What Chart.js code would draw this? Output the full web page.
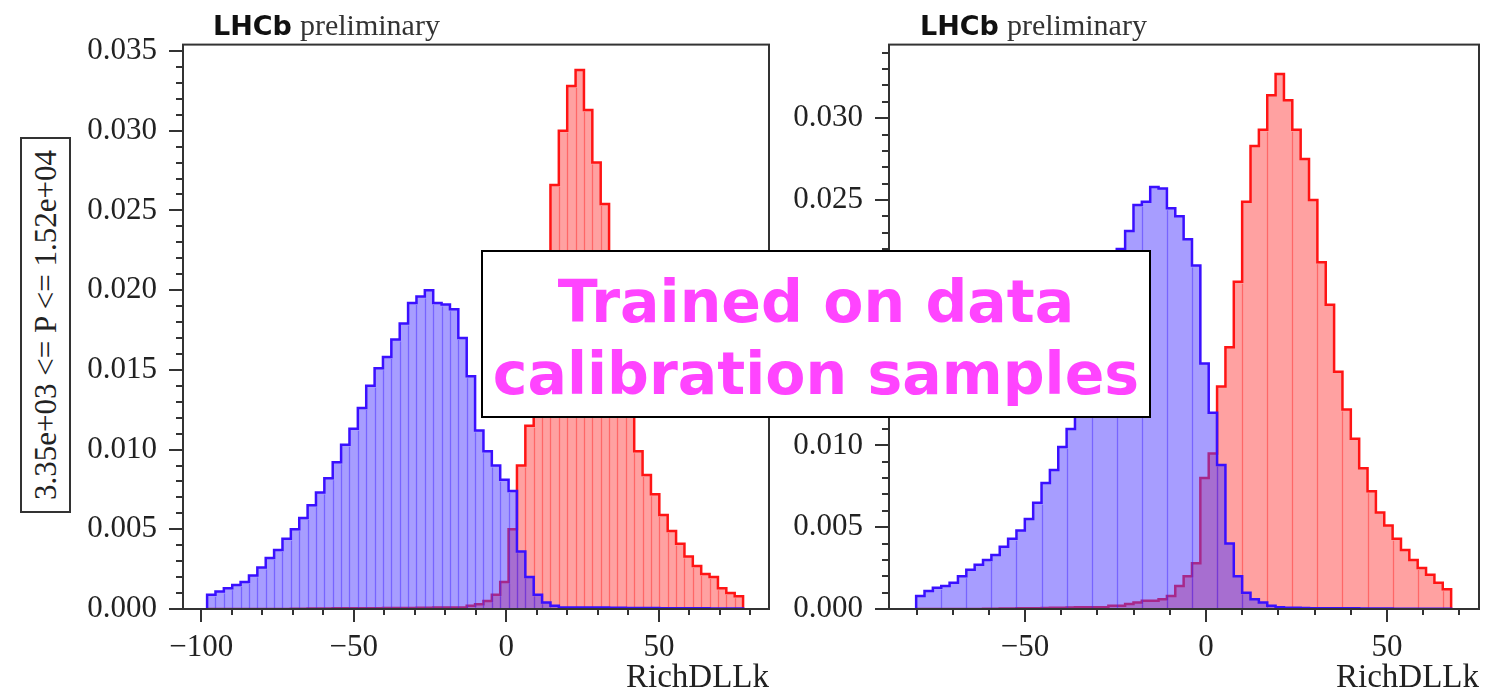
<!DOCTYPE html>
<html>
<head>
<meta charset="utf-8">
<title>RichDLLk</title>
<script src="https://cdn.jsdelivr.net/npm/chart.js@4.4.1/dist/chart.umd.min.js"></script>
<style>
  html, body { margin: 0; padding: 0; background: #fff; }
  #page { position: relative; width: 1499px; height: 695px; overflow: hidden; }
  canvas { position: absolute; top: 0; }
  #left-chart { left: 0; }
  #right-chart { left: 780px; }
  .tag { position: absolute; top: 11px; white-space: nowrap; line-height: 28px; }
  .tag b { font-family: "DejaVu Sans"; font-weight: bold; font-size: 27px; color: #111; margin-right: 4px; }
  .tag span { font-family: "Liberation Serif"; font-size: 30px; color: #333; }
  #p-range {
    position: absolute; left: 20px; top: 137px; width: 51px; height: 376px;
    box-sizing: border-box; border: 2px solid #333; background: #fff;
    display: flex; align-items: center; justify-content: center;
  }
  #p-range div {
    writing-mode: vertical-rl; transform: rotate(180deg);
    font-family: "Liberation Serif"; font-size: 31px; color: #222; white-space: nowrap;
  }
  #note {
    position: absolute; left: 481px; top: 250px; width: 670px; height: 168px;
    box-sizing: border-box; border: 2.5px solid #000; background: #fff;
    padding-top: 14px; text-align: center;
    font-family: "DejaVu Sans"; font-weight: bold; font-size: 58.5px; line-height: 72px; color: #ff44ff;
  }
</style>
</head>
<body>
<div id="page">
  <canvas id="left-chart" width="780" height="695"></canvas>
  <canvas id="right-chart" width="719" height="695"></canvas>
  <div class="tag" style="left:213px"><b>LHCb</b> <span>preliminary</span></div>
  <div class="tag" style="left:920px"><b>LHCb</b> <span>preliminary</span></div>
  <div id="p-range"><div>3.35e+03 &lt;= P &lt;= 1.52e+04</div></div>
  <div id="note">Trained on data<br>calibration samples</div>
</div>
<script>
// histogram ranges (RichDLLk) of the two samples
const leftRange = [-98.1, 77.6];
const rightRange = [-80.1, 67.7];

// normalised bin contents, pions (blue) and kaons (red)
const leftPion = [
  0.0009, 0.0011, 0.0013, 0.0015, 0.0017, 0.0021, 0.0026, 0.0032,
  0.0037, 0.0044, 0.0050, 0.0057, 0.0065, 0.0073, 0.0082, 0.0092,
  0.0103, 0.0113, 0.0126, 0.0140, 0.0151, 0.0158, 0.0169, 0.0179,
  0.0192, 0.0196, 0.0200, 0.0192, 0.0191, 0.0188, 0.0170, 0.0146,
  0.0112, 0.0099, 0.0090, 0.0081, 0.0074, 0.0036, 0.0020, 0.0009,
  0.0004, 0.0002, 0.0001, 0.0001, 0.0001, 0.0001, 0.0001, 0.0001,
  0.00008, 0.00008, 0.00007, 0.00007, 0.00006, 0.00006, 0.00005, 0.00005,
  0.00005, 0.00004, 0.00004, 0.00004, 0.00003, 0.00003, 0.00003, 0.00003
];
const leftKaon = [
  0, 0, 0, 0, 0, 0, 0, 0,
  0, 0, 0.00002, 0.00002, 0.00003, 0.00003, 0.00003, 0.00004,
  0.00004, 0.00004, 0.00005, 0.00005, 0.00005, 0.00006, 0.00006, 0.00007,
  0.00007, 0.00008, 0.00008, 0.00009, 0.0001, 0.0001, 0.0001, 0.0002,
  0.0003, 0.0005, 0.0009, 0.0017, 0.0050, 0.0090, 0.0115, 0.0150,
  0.0210, 0.0266, 0.0300, 0.0328, 0.0338, 0.0313, 0.0280, 0.0254,
  0.0222, 0.0180, 0.0130, 0.0099, 0.0084, 0.0072, 0.0059, 0.0049,
  0.0041, 0.0033, 0.0027, 0.0022, 0.0020, 0.0013, 0.0010, 0.0008
];
const rightPion = [
  0.0008, 0.0011, 0.0013, 0.0014, 0.0016, 0.0020, 0.0024, 0.0027,
  0.0030, 0.0033, 0.0038, 0.0043, 0.0048, 0.0055, 0.0065, 0.0077,
  0.0085, 0.0099, 0.0110, 0.0123, 0.0140, 0.0160, 0.0180, 0.0200,
  0.0220, 0.0231, 0.0247, 0.0249, 0.0258, 0.0257, 0.0245, 0.0240,
  0.0226, 0.0210, 0.0150, 0.0120, 0.0088, 0.0040, 0.0020, 0.0010,
  0.0006, 0.0004, 0.0002, 0.0001, 0.00008, 0.00007, 0.00006, 0.00005,
  0.00005, 0.00005, 0.00004, 0.00004, 0.00004, 0.00003, 0.00003, 0.00003,
  0.00003, 0.00002, 0.00002, 0.00002, 0.00002, 0.00002, 0.00002, 0.00002
];
const rightKaon = [
  0, 0, 0, 0, 0, 0, 0, 0,
  0.00002, 0.00002, 0.00003, 0.00003, 0.00004, 0.00004, 0.00005, 0.00006,
  0.00007, 0.00008, 0.00009, 0.0001, 0.0001, 0.0001, 0.0001, 0.0002,
  0.0002, 0.0003, 0.0004, 0.0005, 0.0005, 0.0006, 0.0008, 0.0014,
  0.0020, 0.0028, 0.0080, 0.0095, 0.0136, 0.0160, 0.0200, 0.0249,
  0.0283, 0.0293, 0.0314, 0.0327, 0.0311, 0.0293, 0.0275, 0.0250,
  0.0212, 0.0186, 0.0145, 0.0122, 0.0104, 0.0086, 0.0072, 0.0059,
  0.0051, 0.0043, 0.0036, 0.0030, 0.0025, 0.0021, 0.0016, 0.0012
];

// axis limits and tick spacing
const leftXLim = [-106.0, 86.1];
const rightXLim = [-87.6, 75.4];
const leftYMax = 0.0354;
const rightYMax = 0.0345;
const xMajorStep = 50, xMinorStep = 10;
const yMajorStep = 0.005, yMinorStep = 0.001;

function binEdges(lo, hi, n) {
  const w = (hi - lo) / n;
  const e = [];
  for (let i = 0; i <= n; i++) e.push(lo + i * w);
  return e;
}

// points for a stepped outline that starts and ends on zero
function stepPoints(edges, counts) {
  const pts = [{x: edges[0], y: 0}];
  counts.forEach((c, i) => pts.push({x: edges[i], y: c}));
  pts.push({x: edges[edges.length - 1], y: 0});
  return pts;
}

function isMajor(v, step) {
  const r = v / step;
  return Math.abs(r - Math.round(r)) < 1e-6;
}

function fmtX(v) {
  return v < 0 ? '\u2212' + Math.abs(v) : String(v);
}

// thin seams between the filled bars
const barSeams = {
  id: 'barSeams',
  afterDatasetDraw(chart, args) {
    const ds = chart.data.datasets[args.index];
    if (!ds.edges) return;
    const {ctx, chartArea: a, scales: {x, y}} = chart;
    const y0 = y.getPixelForValue(0);
    ctx.save();
    ctx.beginPath();
    ctx.rect(a.left, a.top, a.right - a.left, a.bottom - a.top);
    ctx.clip();
    ctx.strokeStyle = ds.seamColor;
    ctx.lineWidth = 1.3;
    ctx.beginPath();
    for (let i = 1; i < ds.counts.length; i++) {
      if (i % ds.seamEvery) continue;
      const h = Math.min(ds.counts[i - 1], ds.counts[i]);
      const px = Math.round(x.getPixelForValue(ds.edges[i])) + 0.5;
      ctx.moveTo(px, y0);
      ctx.lineTo(px, y.getPixelForValue(h) + 2);
    }
    ctx.stroke();
    ctx.restore();
  }
};

// frame plus long/short tick marks, matplotlib style
const frameTicks = {
  id: 'frameTicks',
  afterDatasetsDraw(chart) {
    const {ctx, chartArea: a, scales: {x, y}} = chart;
    ctx.save();
    ctx.strokeStyle = '#333';
    ctx.lineWidth = 2;
    ctx.strokeRect(a.left, a.top, a.right - a.left, a.bottom - a.top);
    ctx.beginPath();
    y.ticks.forEach(t => {
      const py = Math.round(y.getPixelForValue(t.value));
      const len = isMajor(t.value, yMajorStep) ? 14 : 7;
      ctx.moveTo(a.left - len, py);
      ctx.lineTo(a.left, py);
    });
    x.ticks.forEach(t => {
      const px = Math.round(x.getPixelForValue(t.value));
      const len = isMajor(t.value, xMajorStep) ? 13 : 6;
      ctx.moveTo(px, a.bottom);
      ctx.lineTo(px, a.bottom + len);
    });
    ctx.stroke();
    ctx.restore();
  }
};

const tickFont = {family: 'Liberation Serif', size: 31};

function histPanel(id, range, pion, kaon, xLim, yMax, yAxisWidth, padRight, seamEvery) {
  const edges = binEdges(range[0], range[1], pion.length);
  const common = {fill: 'origin', stepped: 'before', pointRadius: 0, borderWidth: 2.5,
                  borderJoinStyle: 'miter', edges: edges, seamEvery: seamEvery};
  return new Chart(document.getElementById(id), {
    type: 'line',
    data: {
      datasets: [
        Object.assign({label: 'K', data: stepPoints(edges, kaon), counts: kaon, order: 2,
          borderColor: '#ff1414', backgroundColor: 'rgba(255, 0, 0, 0.37)',
          seamColor: 'rgba(255, 30, 30, 0.45)'}, common),
        Object.assign({label: 'pi', data: stepPoints(edges, pion), counts: pion, order: 1,
          borderColor: '#3a10ff', backgroundColor: 'rgba(80, 60, 255, 0.5)',
          seamColor: 'rgba(60, 30, 255, 0.45)'}, common)
      ]
    },
    options: {
      responsive: false,
      animation: false,
      events: [],
      layout: {padding: {left: 0, top: 42, right: padRight, bottom: 0}},
      plugins: {legend: {display: false}, tooltip: {enabled: false}},
      scales: {
        x: {
          type: 'linear', min: xLim[0], max: xLim[1],
          afterFit: s => { s.height = 86; },
          grid: {display: false, drawTicks: false},
          border: {display: false},
          ticks: {stepSize: xMinorStep, includeBounds: false, autoSkip: false, maxRotation: 0,
                  padding: 20, color: '#222', font: tickFont,
                  callback: v => isMajor(v, xMajorStep) ? fmtX(v) : ''},
          title: {display: true, text: 'RichDLLk', align: 'end', color: '#222',
                  font: {family: 'Liberation Serif', size: 33, lineHeight: 1},
                  padding: {top: 0, bottom: 0}}
        },
        y: {
          min: 0, max: yMax,
          afterFit: s => { s.width = yAxisWidth; },
          grid: {display: false, drawTicks: false},
          border: {display: false},
          ticks: {stepSize: yMinorStep, includeBounds: false, autoSkip: false,
                  padding: 26, color: '#222', font: tickFont,
                  callback: v => isMajor(v, yMajorStep) ? v.toFixed(3) : ''}
        }
      }
    },
    plugins: [barSeams, frameTicks]
  });
}

histPanel('left-chart', leftRange, leftPion, leftKaon, leftXLim, leftYMax, 183, 11, 1);
histPanel('right-chart', rightRange, rightPion, rightKaon, rightXLim, rightYMax, 109, 20, 3);
</script>
</body>
</html>
